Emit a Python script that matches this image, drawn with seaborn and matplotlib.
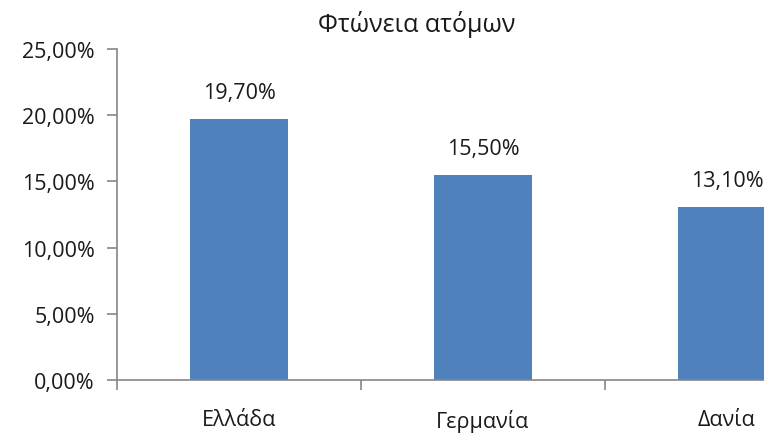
import matplotlib
matplotlib.use("Agg")
import matplotlib.pyplot as plt
import seaborn as sns
import pandas as pd
from matplotlib.ticker import FixedLocator, FuncFormatter

categories = ["Ελλάδα", "Γερμανία", "Δανία"]
values = [19.70, 15.50, 13.10]
yticks = [0, 5, 10, 15, 20, 25]
title = "Φτώνεια ατόμων"

sns.set_theme(style="white")
plt.rcParams['font.family'] = ['Open Sans', 'Noto Sans', 'DejaVu Sans']

FS = 15.5
TXT = "#1a1a1a"

df = pd.DataFrame({"country": categories, "value": values})

fig = plt.figure(figsize=(7.64, 4.35), dpi=100)
ax = fig.add_axes([117/764, 1-381/435, 732/764, (381-50)/435])

sns.barplot(data=df, x="country", y="value", color="#4F81BD", width=0.4,
            saturation=1, ax=ax, edgecolor="none")

ax.set_xlim(-0.5, 2.5)
ax.set_ylim(0, 25)
ax.set_yticks(yticks)
ax.yaxis.set_major_formatter(FuncFormatter(lambda v, p: f"{v:.2f}%".replace(".", ",")))
ax.set_xlabel("")
ax.set_ylabel("")

for s in ["top", "right"]:
    ax.spines[s].set_visible(False)
for s in ["left", "bottom"]:
    ax.spines[s].set_color("#868686")
    ax.spines[s].set_linewidth(1.2)

ax.tick_params(axis="y", which="major", direction="out", length=7, width=1.2,
               color="#868686", labelsize=FS, labelcolor=TXT, pad=9, left=True)
ax.tick_params(axis="x", which="major", length=0, labelsize=FS, labelcolor=TXT, pad=21)
ax.xaxis.set_minor_locator(FixedLocator([-0.5, 0.5, 1.5, 2.5]))
ax.tick_params(axis="x", which="minor", direction="out", length=7, width=1.2,
               color="#868686", bottom=True)

for i, v in enumerate(values):
    ax.text(i, v + 1.2, f"{v:.2f}%".replace(".", ","), ha="center", va="bottom",
            fontsize=FS, color=TXT)

fig.text(417/764, 1-24/435, title, ha="center", va="center", fontsize=18, color=TXT)

fig.savefig("out.png", dpi=100)
